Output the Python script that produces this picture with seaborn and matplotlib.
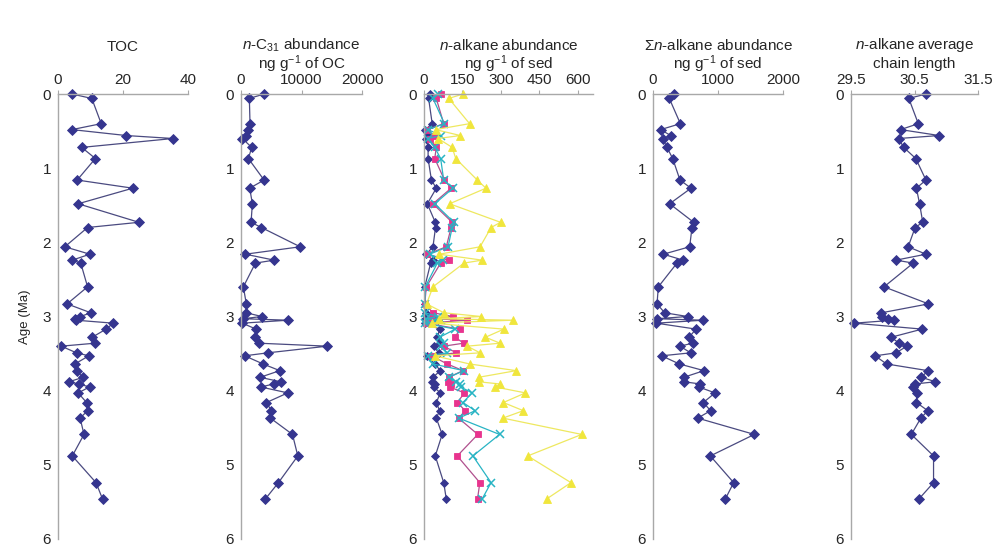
import numpy as np
import matplotlib
matplotlib.use("Agg")
import matplotlib.pyplot as plt
import seaborn as sns

# sample ages (Ma), shared by all panels
ages = [0.00, 0.06, 0.40, 0.48, 0.56, 0.60, 0.72, 0.87, 1.16, 1.27, 1.48,
        1.73, 1.80, 2.06, 2.16, 2.24, 2.28, 2.60, 2.83, 2.95, 3.00, 3.03,
        3.05, 3.09, 3.17, 3.28, 3.36, 3.40, 3.49, 3.53, 3.64, 3.73, 3.82,
        3.88, 3.91, 3.95, 4.03, 4.16, 4.27, 4.37, 4.59, 4.88, 5.24, 5.46]

toc = [4.3, 10.4, 13.3, 4.3, 21.0, 35.4, 7.3, 11.5, 5.9, 23.0, 6.2,
       24.9, 9.1, 2.1, 9.8, 4.4, 7.0, 9.1, 2.8, 10.1, 6.9, 5.3,
       5.6, 17.0, 14.8, 10.5, 11.4, 1.0, 5.7, 9.5, 5.2, 5.7, 7.7,
       3.4, 6.4, 9.7, 6.2, 8.8, 9.1, 6.8, 8.0, 4.4, 11.7, 13.7]

c31_oc = [3800, 1380, 1490, 1160, 770, 220, 1770, 1220, 3810, 1440, 1880,
          1660, 3370, 9780, 720, 5470, 2380, 390, 880, 880, 3430, 390,
          7790, 220, 2490, 2320, 2930, 14250, 4420, 610, 3650, 6410, 3150,
          6570, 5410, 3260, 7730, 4200, 5030, 4860, 8510, 9390, 6190, 4030]

alk_blue = [22, 18, 32, 5, 16, 9, 16, 16, 29, 48, 13,
            44, 45, 35, 9, 35, 26, 3, 3, 9, 35, 5,
            55, 3, 61, 52, 61, 38, 57, 13, 42, 64, 35,
            31, 42, 38, 64, 48, 61, 48, 71, 44, 77, 87]
alk_magenta = [65, 48, 77, 13, 39, 22, 48, 42, 80, 106, 35,
               110, 106, 87, 13, 96, 65, 9, 3, 35, 113, 26,
               168, 9, 139, 122, 155, 77, 126, 29, 91, 152, 96,
               94, 104, 100, 158, 130, 161, 135, 210, 130, 218, 209]
alk_cyan = [55, 35, 80, 16, 65, 16, 42, 65, 77, 113, 42,
            117, 110, 94, 22, 74, 52, 5, 3, 3, 55, 9,
            68, 3, 122, 61, 80, 65, 91, 16, 35, 156, 97,
            126, 139, 143, 188, 152, 200, 136, 295, 191, 262, 227]
alk_yellow = [152, 97, 178, 45, 142, 55, 110, 124, 208, 242, 100,
              299, 262, 219, 60, 227, 156, 35, 10, 78, 223, 60,
              347, 30, 312, 240, 297, 169, 219, 42, 178, 360, 213,
              213, 297, 278, 396, 310, 388, 308, 616, 405, 574, 479]

sum_alk = [318, 251, 421, 118, 272, 149, 215, 303, 415, 585, 256,
           626, 600, 564, 159, 462, 369, 82, 62, 179, 533, 62,
           769, 51, 662, 554, 610, 415, 579, 133, 405, 785, 472,
           477, 728, 703, 954, 774, 887, 687, 1559, 882, 1241, 1113]

acl = [30.68, 30.41, 30.56, 30.28, 30.89, 30.25, 30.33, 30.52, 30.68, 30.53, 30.58,
       30.63, 30.51, 30.40, 30.68, 30.21, 30.48, 30.02, 30.72, 29.98, 29.99, 30.08,
       30.17, 29.55, 30.62, 30.13, 30.26, 30.38, 30.21, 29.88, 30.06, 30.71, 30.61,
       30.83, 30.50, 30.48, 30.54, 30.53, 30.71, 30.60, 30.45, 30.80, 30.80, 30.57]

titles = [["TOC"],
          ["$n$-C$_{31}$ abundance", "ng g$^{-1}$ of OC"],
          ["$n$-alkane abundance", "ng g$^{-1}$ of sed"],
          ["\u03a3$n$-alkane abundance", "ng g$^{-1}$ of sed"],
          ["$n$-alkane average", "chain length"]]
xlims = [(0, 40), (0, 20000), (0, 660), (0, 2000), (29.5, 31.5)]
xticks = [[0, 20, 40], [0, 10000, 20000], [0, 150, 300, 450, 600],
          [0, 1000, 2000], [29.5, 30.5, 31.5]]
xticklabels = [["0", "20", "40"], ["0", "10000", "20000"],
               ["0", "150", "300", "450", "600"], ["0", "1000", "2000"],
               ["29.5", "30.5", "31.5"]]
yticks = [0, 1, 2, 3, 4, 5, 6]

NAVY = "#35358f"
LINE = "#4a4a80"

sns.set_style("white")
plt.rcParams['font.family'] = ['Liberation Sans', 'DejaVu Sans']
plt.rcParams['mathtext.fontset'] = 'custom'
plt.rcParams['mathtext.rm'] = 'Liberation Sans'
plt.rcParams['mathtext.it'] = 'Liberation Sans:italic'

W, H = 997, 551
fig = plt.figure(figsize=(W / 100, H / 100), dpi=100)

# axes pixel extents (left, right)
panel_px = [(58, 188), (241, 362), (424, 593), (653, 783), (851, 978)]
top_px, bot_px = 94, 539

axes = []
for (l, r) in panel_px:
    ax = fig.add_axes([l / W, 1 - bot_px / H, (r - l) / W, (bot_px - top_px) / H])
    axes.append(ax)


def draw(ax, vals, color, marker, ms=5, line_color=None, mew=0.6):
    sns.lineplot(x=vals, y=ages, sort=False, estimator=None, ax=ax,
                 color=line_color or color, linewidth=0.9,
                 marker=marker, markersize=ms, markerfacecolor=color,
                 markeredgecolor=color, markeredgewidth=mew)


draw(axes[0], toc, NAVY, "D", line_color=LINE)
draw(axes[1], c31_oc, NAVY, "D", line_color=LINE)
draw(axes[2], alk_blue, NAVY, "D", ms=4.5, line_color=LINE)
draw(axes[2], alk_magenta, "#e8348e", "s", ms=4.5, line_color="#b0508e")
draw(axes[2], alk_cyan, "#28b4c4", "x", ms=5.5, mew=1.1)
draw(axes[2], alk_yellow, "#f0e63c", "^", ms=5.5, line_color="#eee860")
draw(axes[3], sum_alk, NAVY, "D", line_color=LINE)
draw(axes[4], acl, NAVY, "D", line_color=LINE)

for i, ax in enumerate(axes):
    ax.set_xlim(*xlims[i])
    ax.set_ylim(6, 0)
    ax.set_xticks(xticks[i])
    ax.set_xticklabels(xticklabels[i])
    ax.set_yticks(yticks)
    ax.xaxis.tick_top()
    for side in ["bottom", "right"]:
        ax.spines[side].set_visible(False)
    for side in ["top", "left"]:
        ax.spines[side].set_color("#a8a8a8")
        ax.spines[side].set_linewidth(1.0)
    ax.tick_params(axis="both", direction="out", length=3, width=0.8,
                   color="#a8a8a8", labelsize=11, pad=2)
    ax.set_xlabel("")
    ax.set_ylabel("")
    ax.patch.set_alpha(0)
    for ln in ax.lines:
        ln.set_clip_on(False)
    cx = (panel_px[i][0] + panel_px[i][1]) / 2 / W
    lines = titles[i]
    if len(lines) == 1:
        fig.text(cx, 1 - 47 / H, lines[0], ha="center", va="center", fontsize=11)
    else:
        fig.text(cx, 1 - 45 / H, lines[0], ha="center", va="center", fontsize=11)
        fig.text(cx, 1 - 64 / H, lines[1], ha="center", va="center", fontsize=11)

axes[0].set_ylabel("Age (Ma)", fontsize=9.5, labelpad=8)

fig.savefig("out.png", dpi=100)
